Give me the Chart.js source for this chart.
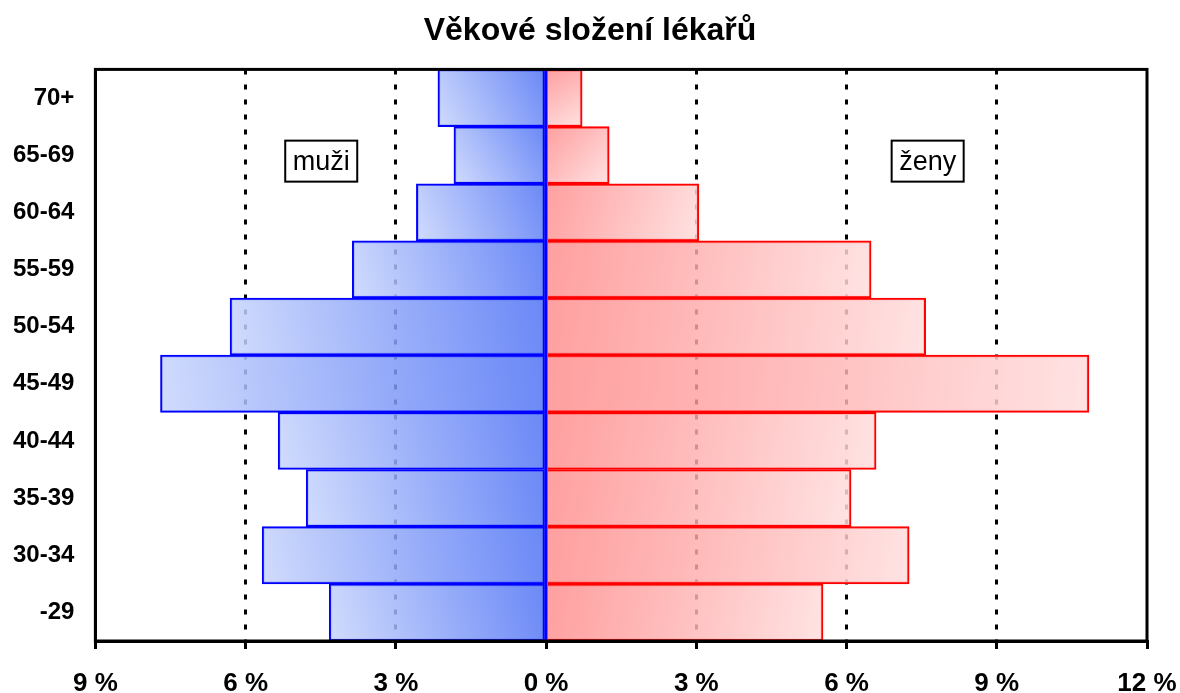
<!DOCTYPE html>
<html>
<head>
<meta charset="utf-8">
<script src="https://cdn.jsdelivr.net/npm/chart.js@4"></script>
<style>
  body { margin: 0; background: #fff; }
  #wrap { width: 1180px; height: 693px; }
</style>
</head>
<body>
<div id="wrap"><canvas id="pyramidChart" width="1180" height="693"></canvas></div>
<script>
// age groups, top to bottom
const ageGroups = ["70+", "65-69", "60-64", "55-59", "50-54", "45-49", "40-44", "35-39", "30-34", "-29"];
// share of doctors in %
const menValues = [2.16, 1.84, 2.59, 3.87, 6.31, 7.70, 5.35, 4.79, 5.67, 4.33];
const womenValues = [0.72, 1.26, 3.05, 6.49, 7.58, 10.84, 6.59, 6.09, 7.25, 5.53];
const xTicks = [-9, -6, -3, 0, 3, 6, 9, 12];

const FONT = "'Liberation Sans', Arial, sans-serif";

// gradient per bar: darker next to the zero line, lighter outward
function barGradient(ctx, dark, light) {
  const chart = ctx.chart;
  const xs = chart.scales.x, ys = chart.scales.y;
  if (!xs || !ys || !chart.chartArea || ctx.raw === undefined) return light;
  const x0 = xs.getPixelForValue(0);
  const x1 = xs.getPixelForValue(ctx.raw);
  const yc = ys.getPixelForValue(ctx.dataIndex);
  const h = (ys.bottom - ys.top) / ageGroups.length;
  const g = chart.ctx.createLinearGradient(x0, yc - h / 2, x1, yc + h / 2);
  g.addColorStop(0, dark);
  g.addColorStop(1, light);
  return g;
}

// outer frame + blue line along zero
const framePlugin = {
  id: "frame",
  afterDatasetsDraw(chart) {
    const { ctx, chartArea: a } = chart;
    const x0 = chart.scales.x.getPixelForValue(0);
    ctx.save();
    ctx.strokeStyle = "#0000ff";
    ctx.lineWidth = 3;
    ctx.beginPath();
    ctx.moveTo(x0, a.top);
    ctx.lineTo(x0, a.bottom);
    ctx.stroke();
    ctx.strokeStyle = "#000";
    ctx.strokeRect(a.left, a.top, a.right - a.left, a.bottom - a.top);
    ctx.restore();
  },
};

const boxLabels = [
  { text: "muži", x: -4.49 },
  { text: "ženy", x: 7.62 },
];

const boxLabelPlugin = {
  id: "boxLabels",
  afterDraw(chart) {
    const { ctx } = chart;
    const xs = chart.scales.x, ys = chart.scales.y;
    ctx.save();
    ctx.font = "27px " + FONT;
    ctx.textAlign = "center";
    ctx.textBaseline = "middle";
    boxLabels.forEach((b) => {
      const cx = xs.getPixelForValue(b.x);
      const cy = ys.getPixelForValue(1) + 6;
      const w = ctx.measureText(b.text).width + 15;
      const h = 41;
      ctx.fillStyle = "#fff";
      ctx.fillRect(cx - w / 2, cy - h / 2, w, h);
      ctx.strokeStyle = "#000";
      ctx.lineWidth = 2;
      ctx.strokeRect(cx - w / 2, cy - h / 2, w, h);
      ctx.fillStyle = "#000";
      ctx.fillText(b.text, cx, cy + 1);
    });
    ctx.restore();
  },
};

const ctx = document.getElementById("pyramidChart");
new Chart(ctx, {
  type: "bar",
  data: {
    labels: ageGroups,
    datasets: [
      {
        label: "muži",
        data: menValues.map((v) => -v),
        backgroundColor: (c) => barGradient(c, "rgba(80,115,245,0.85)", "rgba(200,213,252,0.85)"),
        borderColor: "#0000ff",
        borderWidth: 2,
        borderSkipped: false,
      },
      {
        label: "ženy",
        data: womenValues,
        backgroundColor: (c) => barGradient(c, "rgba(255,135,135,0.8)", "rgba(255,222,222,0.85)"),
        borderColor: "#ff0000",
        borderWidth: 2,
        borderSkipped: "start",
      },
    ],
  },
  options: {
    indexAxis: "y",
    responsive: false,
    animation: false,
    layout: { padding: { left: 0, right: 0, top: 0, bottom: 0 } },
    datasets: {
      bar: { barPercentage: 1, categoryPercentage: 1 },
    },
    scales: {
      x: {
        stacked: true,
        min: -9,
        max: 12,
        afterBuildTicks: (axis) => {
          axis.ticks = xTicks.map((v) => ({ value: v }));
        },
        afterFit: (axis) => {
          axis.height = 52;
          axis.paddingRight = 33;
        },
        grid: {
          color: (c) => (c.tick && (c.tick.value === -9 || c.tick.value === 0 || c.tick.value === 12) ? "rgba(0,0,0,0)" : "#000"),
          lineWidth: 3,
          drawTicks: true,
          tickLength: 8,
          tickColor: "#000",
          tickWidth: 3,
          tickBorderDash: [],
        },
        border: { display: true, color: "#000", width: 3, dash: [5, 10] },
        ticks: {
          color: "#000",
          padding: 23,
          font: { family: FONT, size: 26, weight: "bold", lineHeight: 0.9 },
          callback: (v) => Math.abs(v) + " %",
        },
      },
      y: {
        stacked: true,
        grid: { display: false },
        border: { display: true, color: "#000", width: 3 },
        ticks: {
          color: "#000",
          padding: 13,
          font: { family: FONT, size: 24, weight: "bold" },
        },
      },
    },
    plugins: {
      legend: { display: false },
      tooltip: { enabled: false },
      title: {
        display: true,
        text: "Věkové složení lékařů",
        color: "#000",
        font: { family: FONT, size: 32, weight: "bold" },
        padding: { top: 12, bottom: 19 },
      },
    },
  },
  plugins: [framePlugin, boxLabelPlugin],
});
</script>
</body>
</html>
